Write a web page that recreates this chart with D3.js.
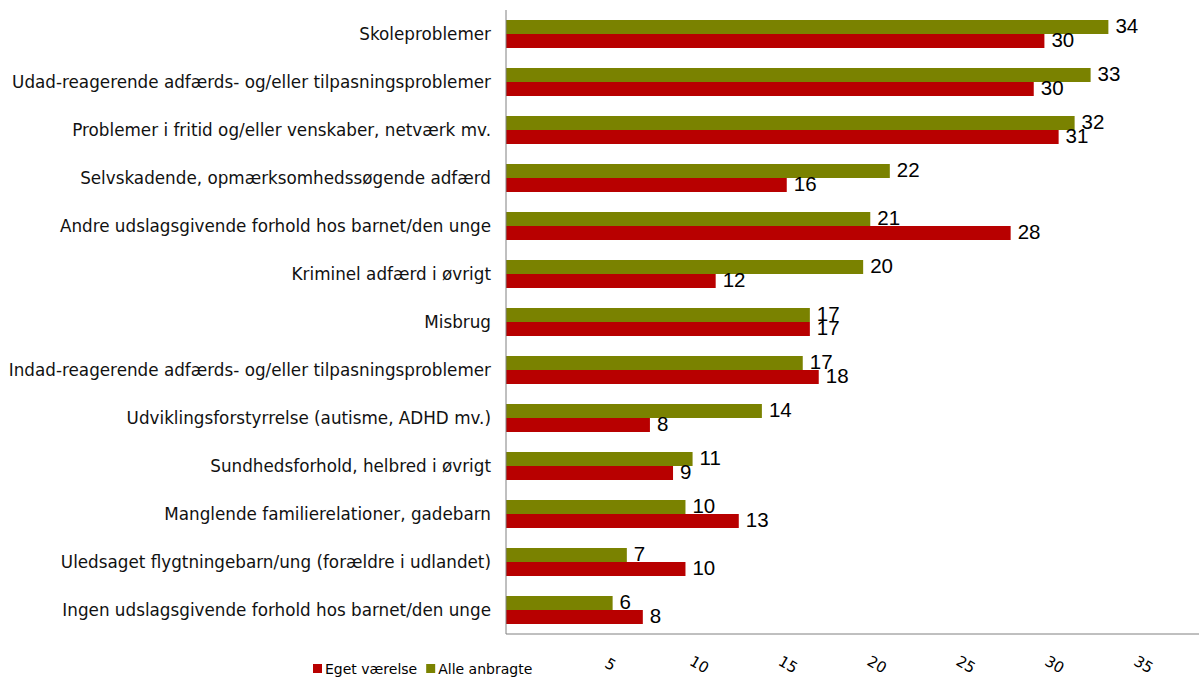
<!DOCTYPE html>
<html>
<head>
<meta charset="utf-8">
<script src="https://cdn.jsdelivr.net/npm/d3@7"></script>
<style>
  body { margin: 0; background: #fff; }
  svg { display: block; }
</style>
</head>
<body>
<div id="chart"></div>
<script>
const categories = [
  'Skoleproblemer',
  'Udad-reagerende adfærds- og/eller tilpasningsproblemer',
  'Problemer i fritid og/eller venskaber, netværk mv.',
  'Selvskadende, opmærksomhedssøgende adfærd',
  'Andre udslagsgivende forhold hos barnet/den unge',
  'Kriminel adfærd i øvrigt',
  'Misbrug',
  'Indad-reagerende adfærds- og/eller tilpasningsproblemer',
  'Udviklingsforstyrrelse (autisme, ADHD mv.)',
  'Sundhedsforhold, helbred i øvrigt',
  'Manglende familierelationer, gadebarn',
  'Uledsaget flygtningebarn/ung (forældre i udlandet)',
  'Ingen udslagsgivende forhold hos barnet/den unge'
];
const alleAnbragte = [33.9, 32.9, 32.0, 21.6, 20.5, 20.1, 17.1, 16.7, 14.4, 10.5, 10.1, 6.8, 6.0];
const egetVaerelse = [30.3, 29.7, 31.1, 15.8, 28.4, 11.8, 17.1, 17.6, 8.1, 9.4, 13.1, 10.1, 7.7];
const xTicks = [5, 10, 15, 20, 25, 30, 35];
const seriesNames = ['Alle anbragte', 'Eget værelse'];
const legendOrder = ['Eget værelse', 'Alle anbragte'];

const COLORS = { 'Alle anbragte': '#7a8200', 'Eget værelse': '#b80000' };
const LABEL_FONT = '"DejaVu Sans", Verdana, sans-serif';

const width = 1199;
const height = 677;
const margin = { top: 10, right: 0, bottom: 43, left: 506 };

const rows = categories.map((c, i) => ({
  category: c,
  values: [
    { key: 'Alle anbragte', value: alleAnbragte[i] },
    { key: 'Eget værelse', value: egetVaerelse[i] }
  ]
}));

const svg = d3.select('#chart')
  .append('svg')
  .attr('width', width)
  .attr('height', height);

const x = d3.scaleLinear()
  .domain([0, 39])
  .range([margin.left, width - margin.right]);

const y = d3.scaleBand()
  .domain(categories)
  .range([margin.top, height - margin.bottom])
  .paddingInner(20 / 48)
  .paddingOuter(10 / 48);

const ySub = d3.scaleBand()
  .domain(seriesNames)
  .range([0, y.bandwidth()]);

// Bars
const groups = svg.selectAll('.row')
  .data(rows)
  .enter()
  .append('g')
  .attr('class', 'row')
  .attr('transform', (d) => `translate(0,${y(d.category)})`);

groups.selectAll('rect')
  .data((d) => d.values)
  .enter()
  .append('rect')
  .attr('x', x(0))
  .attr('y', (d) => ySub(d.key))
  .attr('width', (d) => x(d.value) - x(0))
  .attr('height', ySub.bandwidth())
  .attr('fill', (d) => COLORS[d.key]);

// Value labels
groups.selectAll('.value-label')
  .data((d) => d.values)
  .enter()
  .append('text')
  .attr('class', 'value-label')
  .attr('x', (d) => x(d.value) + 7)
  .attr('y', (d) => ySub(d.key) + ySub.bandwidth() - 1)
  .attr('font-family', '"Liberation Sans", Arial, sans-serif')
  .attr('font-size', 20.5)
  .attr('fill', '#000')
  .text((d) => Math.round(d.value));

// Category labels
svg.selectAll('.cat-label')
  .data(categories)
  .enter()
  .append('text')
  .attr('class', 'cat-label')
  .attr('x', margin.left - 15)
  .attr('y', (d) => y(d) + y.bandwidth() / 2)
  .attr('dy', '0.35em')
  .attr('text-anchor', 'end')
  .attr('font-family', LABEL_FONT)
  .attr('font-size', 16.8)
  .attr('fill', '#111')
  .text((d) => d);

// Axes lines
svg.append('line')
  .attr('x1', x(0)).attr('x2', x(0))
  .attr('y1', margin.top).attr('y2', height - margin.bottom)
  .attr('stroke', '#808080')
  .attr('stroke-width', 1);

svg.append('line')
  .attr('x1', x(0)).attr('x2', width)
  .attr('y1', height - margin.bottom).attr('y2', height - margin.bottom)
  .attr('stroke', '#808080')
  .attr('stroke-width', 1);

// Rotated tick labels
svg.selectAll('.tick-label')
  .data(xTicks)
  .enter()
  .append('text')
  .attr('class', 'tick-label')
  .attr('transform', (d) => `translate(${x(d) + 13},${height - 8}) rotate(30)`)
  .attr('text-anchor', 'middle')
  .attr('font-family', LABEL_FONT)
  .attr('font-size', 15)
  .attr('fill', '#000')
  .text((d) => d);

// Legend
const legend = svg.append('g')
  .attr('transform', `translate(313,${height - 8})`);

let lx = 0;
legendOrder.forEach((key) => {
  const item = legend.append('g').attr('transform', `translate(${lx},0)`);
  item.append('rect')
    .attr('x', 0).attr('y', -5)
    .attr('width', 9).attr('height', 9)
    .attr('fill', COLORS[key]);
  const t = item.append('text')
    .attr('x', 12)
    .attr('y', 0)
    .attr('dy', '0.35em')
    .attr('font-family', LABEL_FONT)
    .attr('font-size', 14)
    .attr('fill', '#000')
    .text(key);
  lx += 12 + t.node().getComputedTextLength() + 9;
});
</script>
</body>
</html>
